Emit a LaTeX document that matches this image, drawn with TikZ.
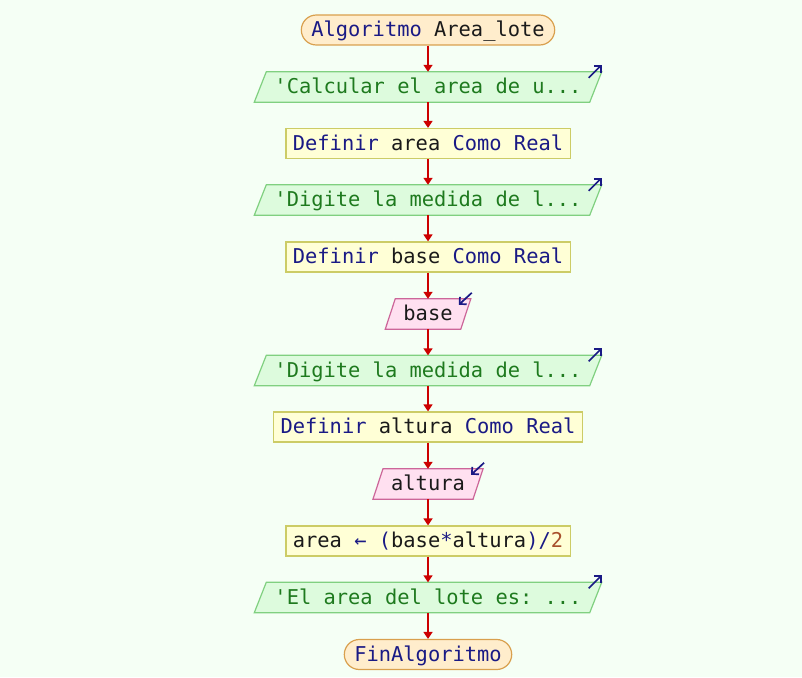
\documentclass[tikz,border=0pt]{standalone}
\usepackage{fontspec}
\setmonofont{DejaVu Sans Mono}
\usetikzlibrary{arrows.meta,calc,backgrounds}

\definecolor{bg}{HTML}{F5FFF5}
\definecolor{termfill}{HTML}{FFEDCC}
\definecolor{termline}{HTML}{D9A04E}
\definecolor{procfill}{HTML}{FFFFD6}
\definecolor{procline}{HTML}{CCCC66}
\definecolor{outfill}{HTML}{DDFBDD}
\definecolor{outline}{HTML}{80D080}
\definecolor{infill}{HTML}{FFE0F0}
\definecolor{inline}{HTML}{CC6699}
\definecolor{flowred}{HTML}{CC0000}
\definecolor{kw}{HTML}{1A1A85}
\definecolor{cmt}{HTML}{1E7A1E}
\definecolor{num}{HTML}{A8502C}
\definecolor{txt}{HTML}{1A1A1A}

\begin{document}
\begin{tikzpicture}[x=1pt,y=-1pt,
  every node/.style={font=\ttfamily\fontsize{20.4}{24}\selectfont, text=txt,
    text height=15pt, text depth=2pt, inner ysep=0pt, minimum height=30pt},
  term/.style={draw=termline, fill=termfill, line width=1.2pt,
    rounded corners=15pt, inner xsep=10pt},
  proc/.style={draw=procline, fill=procfill, line width=1.2pt, inner xsep=7pt},
  outp/.style={inner xsep=14pt, text=cmt},
  inp/.style={inner xsep=13pt},
  outshape/.style={draw=outline, fill=outfill, line width=1.2pt},
  inshape/.style={draw=inline, fill=infill, line width=1.2pt},
  flow/.style={draw=flowred, line width=1.6pt, -{Triangle[width=9pt,length=7pt]}},
  ioarrow/.style={draw=kw, line width=1.7pt, -{Straight Barb[length=5pt,width=10pt]}}
]
\begin{scope}[on background layer]
  \fill[bg] (0,0) rectangle (802,677);
\end{scope}
\useasboundingbox (0,0) rectangle (802,677);

% flowchart steps
\node[term] (t1) at (428,30) {\textcolor{kw}{Algoritmo} Area\_lote};
\node[outp] (o1) at (428,87) {'Calcular el area de u...};
\node[proc] (p1) at (428,143.5) {\textcolor{kw}{Definir} area \textcolor{kw}{Como Real}};
\node[outp] (o2) at (428,200) {'Digite la medida de l...};
\node[proc] (p2) at (428,257) {\textcolor{kw}{Definir} base \textcolor{kw}{Como Real}};
\node[inp] (i1) at (428,314) {base};
\node[outp] (o3) at (428,370.5) {'Digite la medida de l...};
\node[proc] (p3) at (428,427) {\textcolor{kw}{Definir} altura \textcolor{kw}{Como Real}};
\node[inp] (i2) at (428,484) {altura};
\node[proc] (p4) at (428,541) {area \textcolor{kw}{← (}base\textcolor{kw}{*}altura\textcolor{kw}{)/}\textcolor{num}{2}};
\node[outp] (o4) at (428,597.5) {'El area del lote es: ...};
\node[term] (t2) at (428,654.5) {\textcolor{kw}{FinAlgoritmo}};

% parallelogram outlines behind the output and input texts
\begin{scope}[on background layer]
  \foreach \n in {o1,o2,o3,o4}
    \draw[outshape] ($(\n.north west)+(6,0)$) -- ($(\n.north east)+(6,0)$)
      -- ($(\n.south east)+(-6,0)$) -- ($(\n.south west)+(-6,0)$) -- cycle;
  \foreach \n in {i1,i2}
    \draw[inshape] ($(\n.north west)+(5,0)$) -- ($(\n.north east)+(5,0)$)
      -- ($(\n.south east)+(-5,0)$) -- ($(\n.south west)+(-5,0)$) -- cycle;
\end{scope}

% output / input markers
\foreach \n in {o1,o2,o3,o4}
  \draw[ioarrow] ($(\n.north east)+(-7,6)$) -- ($(\n.north east)+(6,-7)$);
\foreach \n in {i1,i2}
  \draw[ioarrow] ($(\n.north east)+(6,-6)$) -- ($(\n.north east)+(-7,6)$);

% control flow
\draw[flow] (t1) -- (o1);
\draw[flow] (o1) -- (p1);
\draw[flow] (p1) -- (o2);
\draw[flow] (o2) -- (p2);
\draw[flow] (p2) -- (i1);
\draw[flow] (i1) -- (o3);
\draw[flow] (o3) -- (p3);
\draw[flow] (p3) -- (i2);
\draw[flow] (i2) -- (p4);
\draw[flow] (p4) -- (o4);
\draw[flow] (o4) -- (t2);
\end{tikzpicture}
\end{document}
